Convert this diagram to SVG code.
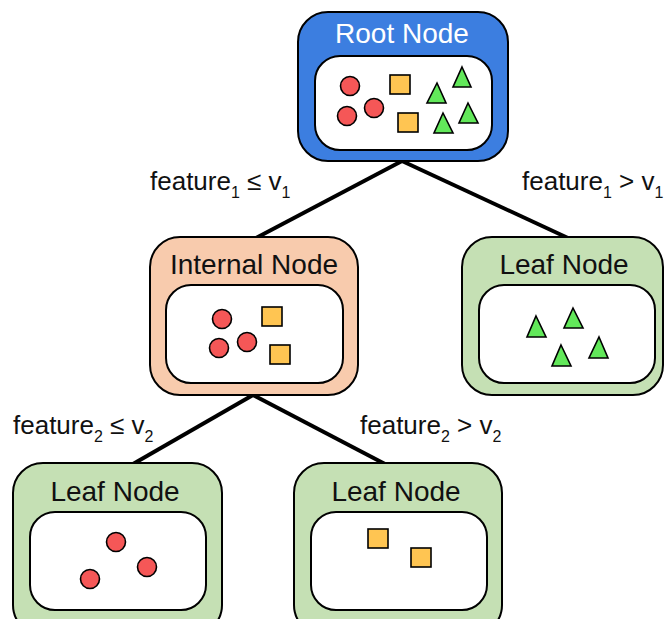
<svg xmlns="http://www.w3.org/2000/svg" width="664" height="619" viewBox="0 0 664 619">
<style>
.outer{stroke:#000;stroke-width:2}
.inner{fill:#fff;stroke:#000;stroke-width:2}
.title{font-family:"Liberation Sans",Arial,sans-serif;font-size:28px;text-anchor:middle}
.lbl{font-family:"Liberation Sans",Arial,sans-serif;font-size:26px;fill:#111}
.sub{font-size:16px}
.c{fill:#f55757;stroke:#000;stroke-width:1.6}
.s{fill:#ffc552;stroke:#000;stroke-width:1.6}
.t{fill:#62e85a;stroke:#000;stroke-width:1.6;stroke-linejoin:miter}
.edge{stroke:#000;stroke-width:4;fill:none}
</style>
<rect width="664" height="619" fill="#fff"/>
<g id="connectors">
<line class="edge" x1="402" y1="161" x2="256" y2="238"/>
<line class="edge" x1="402" y1="161" x2="568" y2="238"/>
<line class="edge" x1="253" y1="395" x2="133" y2="464"/>
<line class="edge" x1="253" y1="395" x2="385" y2="464"/>
</g>
<g id="labels">
<text class="lbl" x="150" y="190">feature<tspan class="sub" dy="8">1</tspan><tspan dy="-8"> ≤ v</tspan><tspan class="sub" dy="8">1</tspan></text>
<text class="lbl" x="522" y="190">feature<tspan class="sub" dy="8">1</tspan><tspan dy="-8"> &gt; v</tspan><tspan class="sub" dy="8">1</tspan></text>
<text class="lbl" x="13" y="434">feature<tspan class="sub" dy="8">2</tspan><tspan dy="-8"> ≤ v</tspan><tspan class="sub" dy="8">2</tspan></text>
<text class="lbl" x="360" y="434">feature<tspan class="sub" dy="8">2</tspan><tspan dy="-8"> &gt; v</tspan><tspan class="sub" dy="8">2</tspan></text>
</g>
<g id="root">
<rect class="outer" x="298" y="12" width="210" height="149" rx="30" fill="#3c7ee0"/>
<text class="title" x="402" y="43" fill="#fff">Root Node</text>
<rect class="inner" x="315" y="56" width="177" height="94" rx="25"/>
<circle class="c" cx="350" cy="86" r="9.5"/>
<circle class="c" cx="347" cy="116" r="9.5"/>
<circle class="c" cx="374" cy="108" r="9.5"/>
<rect class="s" x="390" y="75" width="20" height="19"/>
<rect class="s" x="398" y="113" width="20" height="19"/>
<polygon class="t" points="437,83 446,103 427,103"/>
<polygon class="t" points="462,67 471,87 453,87"/>
<polygon class="t" points="443,113 453,133 434,133"/>
<polygon class="t" points="468,103 478,123 459,123"/>
</g>
<g id="internal">
<rect class="outer" x="150" y="237" width="208" height="158" rx="30" fill="#f8cbad"/>
<text class="title" x="254" y="274" fill="#111">Internal Node</text>
<rect class="inner" x="166" y="285" width="177" height="98" rx="25"/>
<circle class="c" cx="222" cy="319" r="9.5"/>
<circle class="c" cx="219" cy="348" r="9.5"/>
<circle class="c" cx="247" cy="342" r="9.5"/>
<rect class="s" x="262" y="307" width="20" height="19"/>
<rect class="s" x="270" y="345" width="20" height="19"/>
</g>
<g id="leaf-right">
<rect class="outer" x="462" y="237" width="201" height="158" rx="30" fill="#c5e0b4"/>
<text class="title" x="564" y="274" fill="#111">Leaf Node</text>
<rect class="inner" x="479" y="285" width="176" height="98" rx="25"/>
<polygon class="t" points="536,316 546,337 527,337"/>
<polygon class="t" points="573,308 583,328 564,328"/>
<polygon class="t" points="561,345 571,366 552,366"/>
<polygon class="t" points="599,337 608,358 589,358"/>
</g>
<g id="leaf-left">
<rect class="outer" x="13" y="463" width="209" height="172" rx="30" fill="#c5e0b4"/>
<text class="title" x="115" y="501" fill="#111">Leaf Node</text>
<rect class="inner" x="30" y="512" width="176" height="98" rx="25"/>
<circle class="c" cx="116" cy="542" r="9.5"/>
<circle class="c" cx="147" cy="567" r="9.5"/>
<circle class="c" cx="90" cy="579" r="9.5"/>
</g>
<g id="leaf-mid">
<rect class="outer" x="294" y="463" width="208" height="172" rx="30" fill="#c5e0b4"/>
<text class="title" x="396" y="501" fill="#111">Leaf Node</text>
<rect class="inner" x="311" y="512" width="176" height="98" rx="25"/>
<rect class="s" x="368" y="529" width="20" height="19"/>
<rect class="s" x="411" y="548" width="20" height="19"/>
</g>
</svg>
